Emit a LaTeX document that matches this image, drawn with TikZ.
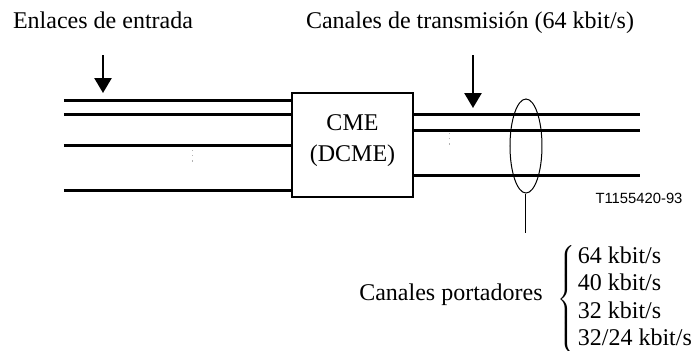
\documentclass[tikz,border=0pt]{standalone}
\usepackage{fontspec}
\setmainfont{Liberation Serif}
\newfontfamily\refsans{Liberation Sans}
\usetikzlibrary{arrows.meta,shapes.geometric}

\tikzset{
	link/.style={line width=1.5pt},
	pointer/.style={line width=1.25pt,-{Triangle[width=8.5pt,length=7.5pt]}},
	gapmark/.style={gray!60,line width=0.5pt,dash pattern=on 0.6pt off 2pt},
	unitbox/.style={draw,line width=0.75pt,minimum width=60.5pt,minimum height=52pt,inner sep=0pt},
}

\begin{document}
\begin{tikzpicture}[x=0.5pt,y=-0.5pt,font=\fontsize{12}{15.5}\selectfont]
	\useasboundingbox (0,0) rectangle (693,350);

	% central unit
	\node[unitbox] (cme) at (352.5,145) {};
	\node[align=center] (cmetxt) at (352.5,140.5) {CME\\(DCME)};

	% input links and transmission channels
	\foreach \y [count=\i] in {100,114,145,190} {
		\coordinate (in\i) at (64,\y);
		\draw[link] (in\i) -- (in\i -| cme.west);
	}
	\foreach \y [count=\i] in {114,130,175} {
		\coordinate (out\i) at (640,\y);
		\draw[link] (cme.east |- out\i) -- (out\i);
	}
	\draw[gapmark] (193,150) -- (193,164);
	\draw[gapmark] (450,133) -- (450,148);

	% pointers
	\coordinate (intop) at (103,55);
	\coordinate (intip) at (103,93);
	\draw[pointer] (intop) -- (intip);
	\coordinate (outtop) at (473,55);
	\coordinate (outtip) at (473,108);
	\draw[pointer] (outtop) -- (outtip);

	% bundle of bearer channels
	\node[draw,ellipse,line width=0.5pt,minimum width=16pt,minimum height=47pt,inner sep=0pt] (bundle) at (526,146) {};
	\coordinate (tail) at (526,233);
	\draw[line width=0.5pt] (bundle.south) -- (tail);

	% labels
	\node[anchor=base] (enlaces) at (103,28.5) {Enlaces de entrada};
	\node[anchor=base] (canales) at (470,28.5) {Canales de transmisi\'on (64 kbit/s)};
	\node[anchor=base,font=\refsans\fontsize{7.4}{8}\selectfont] (ref) at (639,203) {T1155420-93};
	\node[anchor=base east,inner sep=0pt] (portadores) at (543,300) {Canales portadores};
	\node[anchor=west,inner sep=0pt,font=\fontsize{12}{13.7}\selectfont] (rates) at (557,299)
		{$\left\{\mskip2mu\begin{tabular}{@{}l@{}}64 kbit/s\\40 kbit/s\\32 kbit/s\\32/24 kbit/s\end{tabular}\right.$};
\end{tikzpicture}
\end{document}
